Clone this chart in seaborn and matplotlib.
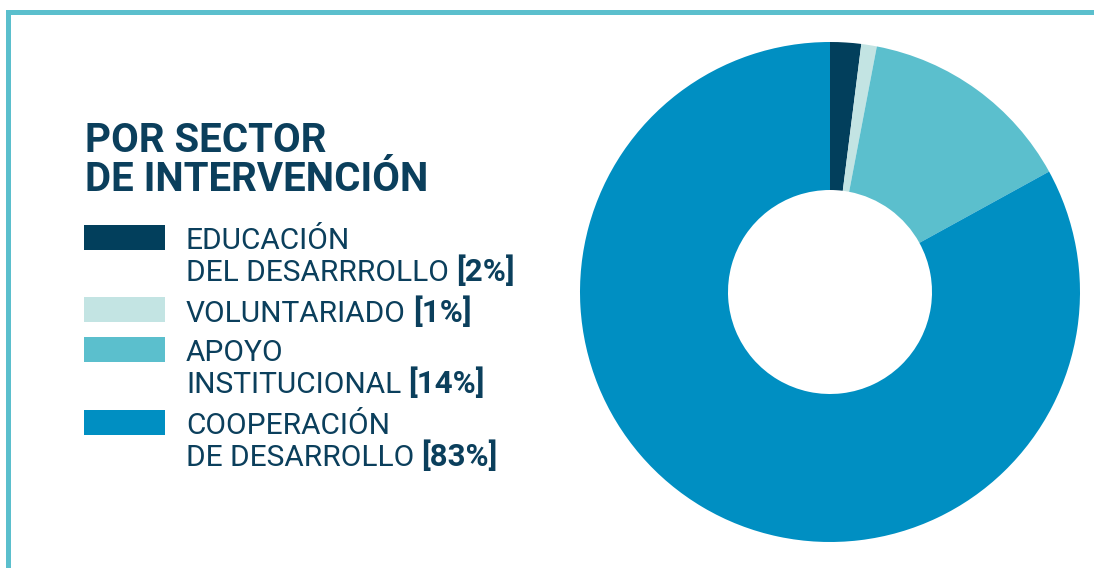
import matplotlib
matplotlib.use("Agg")
import matplotlib.pyplot as plt
from matplotlib.patches import Rectangle
import seaborn as sns

# data
sectors = ["EDUCACIÓN\nDEL DESARRROLLO", "VOLUNTARIADO", "APOYO\nINSTITUCIONAL", "COOPERACIÓN\nDE DESARROLLO"]
shares = [2, 1, 14, 83]
colors = ["#023f5c", "#c3e4e3", "#5bbfcd", "#008fc2"]
title = "POR SECTOR\nDE INTERVENCIÓN"

sns.set_theme(style="white")
plt.rcParams["font.family"] = ["Roboto", "DejaVu Sans"]
navy = "#0b3f5c"

W, H = 1094, 568
fig = plt.figure(figsize=(W / 100, H / 100), dpi=100)

def fx(px):
    return px / W

def fy(py):
    return 1 - py / H

# frame lines (top + left)
border = "#5bbfcd"
fig.patches.append(Rectangle((fx(6), fy(15)), fx(W - 6), 5 / H, transform=fig.transFigure,
                             color=border, lw=0))
fig.patches.append(Rectangle((fx(6), 0), 5 / W, fy(10), transform=fig.transFigure,
                             color=border, lw=0))

# donut
cx, cy, r = 830, 292, 250
ax = fig.add_axes([fx(cx - r), fy(cy + r), 2 * r / W, 2 * r / H])
ax.pie(shares, colors=colors, startangle=90, counterclock=False, radius=1,
       wedgeprops=dict(width=1 - 102 / 250, linewidth=0))
ax.set_xlim(-1, 1)
ax.set_ylim(-1, 1)
ax.set_aspect("equal")
ax.axis("off")

# title
fig.text(fx(85), fy(191), title, fontsize=29, fontweight="bold", color=navy,
         va="baseline", ha="left", linespacing=1.02)

# legend
box_tops = [225, 297, 337, 410]
first_baselines = [249, 322, 361, 434]
line_gap = 32
for lab, val, col, top, base in zip(sectors, shares, colors, box_tops, first_baselines):
    fig.patches.append(Rectangle((fx(84), fy(top + 25)), 81 / W, 25 / H,
                                 transform=fig.transFigure, color=col, lw=0))
    lines = lab.split("\n")
    t = None
    for i, ln in enumerate(lines):
        t = fig.text(fx(186), fy(base + i * line_gap), ln, fontsize=21.5, color=navy,
                     fontweight="normal", va="baseline", ha="left")
    ax.annotate(f"[{val}%]", xy=(1, 0), xycoords=t, xytext=(5, 0), textcoords="offset points",
                fontsize=22.5, color=navy, fontweight="bold", va="bottom", ha="left",
                annotation_clip=False)

fig.savefig("out.png", dpi=100)
